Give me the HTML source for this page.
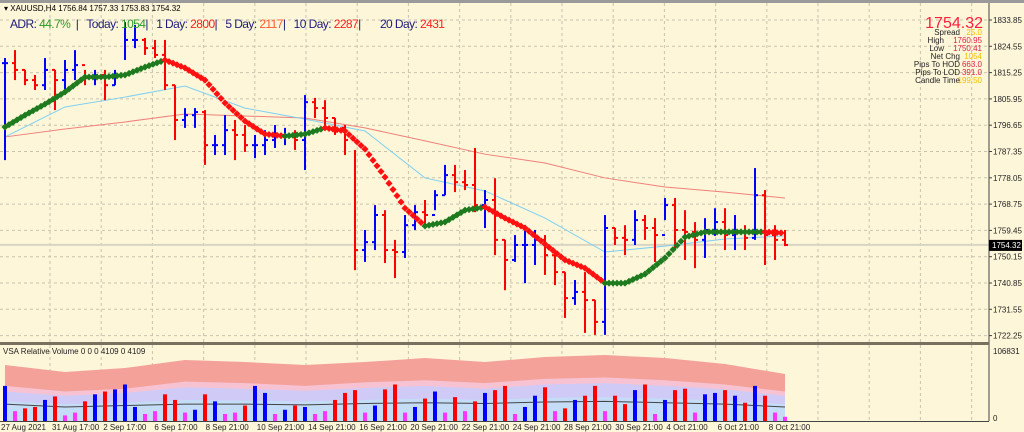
<!DOCTYPE html>
<html><head><meta charset="utf-8">
<style>
html,body{margin:0;padding:0;background:#fdf6d9;width:1024px;height:432px;overflow:hidden}
svg{display:block;font-family:"Liberation Sans",sans-serif}
</style></head>
<body>
<svg id="chart" width="1024" height="432" viewBox="0 0 1024 432" xmlns="http://www.w3.org/2000/svg">
<rect x="0" y="0" width="1024" height="432" fill="#fdf6d9"/>
<rect x="0" y="0" width="1024" height="3" fill="#9a9a9a"/>
<g id="grid"></g>
<g id="vol"></g>
<g id="mas"></g>
<g id="bars"></g>
<g id="dots"></g>
<g id="axes"></g>
<text x="4" y="11" font-size="8" fill="#000">▾ XAUUSD,H4  1756.84 1757.33 1753.83 1754.32</text>
<text x="10" y="28" font-size="12" fill="#1c1c7a" textLength="435" lengthAdjust="spacing" xml:space="preserve">ADR: <tspan fill="#2a9a2a">44.7%</tspan>  |   Today: <tspan fill="#2a9a2a">1054</tspan>|   1 Day: <tspan fill="#ff1e1e">2800</tspan>|   5 Day: <tspan fill="#ff5a2a">2117</tspan>|   10 Day: <tspan fill="#ff1e1e">2287</tspan>|       20 Day: <tspan fill="#ff1e1e">2431</tspan></text>
<g font-size="8" text-anchor="end">
<text x="983" y="28" font-size="16" fill="#ff1e3c">1754.32</text>
<text x="960" y="35" fill="#222">Spread</text><text x="982" y="35" fill="#f0c000">25.0</text>
<text x="944" y="43" fill="#222">High</text><text x="982" y="43" fill="#e0204a">1760.95</text>
<text x="944" y="51" fill="#222">Low</text><text x="982" y="51" fill="#e0204a">1750.41</text>
<text x="960" y="59" fill="#222">Net Chg</text><text x="982" y="59" fill="#f0c000">1054</text>
<text x="960" y="67" fill="#222">Pips To HOD</text><text x="982" y="67" fill="#e0204a">663.0</text>
<text x="960" y="75" fill="#222">Pips To LOD</text><text x="982" y="75" fill="#e0204a">391.0</text>
<text x="960" y="83" fill="#222">Candle Time</text><text x="982" y="83" fill="#f0c000">199:50</text>
</g>
</svg>
<script>
const highs=[1820.4,1823.2,1816.2,1814.4,1820.4,1816.2,1819.7,1823.2,1816.2,1816.2,1816.2,1816.2,1833.1,1832.1,1827.5,1826.8,1826.8,1810.8,1802.7,1802.7,1802.0,1793.2,1800.2,1798.5,1796.7,1793.2,1794.9,1796.7,1795.7,1794.9,1807.3,1806.3,1805.5,1799.2,1796.7,1787.9,1759.6,1768.4,1766.6,1756.1,1764.9,1768.4,1770.2,1773.7,1782.6,1782.6,1780.8,1788.6,1773.7,1777.9,1756.1,1757.8,1761.3,1759.6,1757.8,1752.5,1744.7,1741.9,1744.7,1734.8,1764.9,1760.3,1761.3,1766.6,1764.9,1763.8,1770.9,1770.9,1766.6,1762.4,1763.8,1767.3,1767.3,1764.9,1761.3,1781.5,1773.7,1761.3,1759.6];
const lows=[1784.3,1812.6,1810.8,1809.1,1809.1,1802.0,1809.1,1812.6,1810.8,1810.8,1805.5,1810.8,1819.7,1823.9,1821.5,1820.4,1809.1,1791.4,1795.7,1795.7,1782.6,1786.1,1786.1,1784.3,1787.2,1785.0,1786.1,1788.6,1789.6,1787.9,1780.8,1799.2,1794.9,1793.2,1786.1,1745.4,1748.3,1752.5,1747.9,1742.6,1749.7,1759.6,1760.3,1766.6,1771.9,1773.0,1773.7,1765.9,1760.3,1750.7,1738.3,1748.3,1740.8,1747.2,1743.7,1740.1,1728.5,1733.1,1723.2,1722.5,1722.5,1754.3,1750.7,1754.3,1756.1,1748.3,1763.1,1752.5,1749.0,1746.1,1749.7,1757.5,1752.5,1752.5,1752.5,1756.1,1747.2,1749.0,1753.9];
const closes=[1818.6,1816.2,1812.6,1810.8,1816.2,1812.6,1816.2,1817.9,1813.3,1814.4,1810.8,1814.4,1826.8,1826.8,1823.9,1821.5,1810.8,1798.5,1800.2,1801.3,1789.6,1789.6,1794.9,1793.2,1789.6,1789.6,1791.4,1793.2,1793.2,1791.4,1804.8,1802.7,1799.2,1795.7,1791.4,1752.5,1755.3,1764.9,1752.5,1751.8,1761.3,1765.9,1764.9,1771.9,1779.0,1776.5,1775.5,1768.4,1770.2,1756.1,1749.0,1754.3,1754.3,1756.1,1750.7,1744.7,1735.5,1737.7,1734.8,1727.1,1760.3,1756.8,1756.1,1763.1,1760.3,1757.8,1768.4,1759.6,1758.9,1756.1,1759.6,1762.4,1757.8,1758.9,1756.8,1771.9,1757.8,1756.1,1754.3];
const volumes=[50,14,18,20,30,35,8,12,28,38,42,45,52,20,10,14,38,30,12,16,38,28,10,12,22,50,40,10,16,22,20,10,14,30,40,44,12,22,45,52,12,20,32,42,12,34,14,28,40,44,50,10,20,36,48,14,18,30,36,50,14,36,24,44,52,10,30,44,46,12,38,40,44,36,26,50,36,12,6];
const trendMA=[1796.0,1800.2,1804.1,1808.4,1813.7,1813.7,1814.4,1817.2,1819.7,1816.9,1812.6,1804.5,1798.1,1793.5,1792.8,1793.5,1795.7,1794.6,1788.2,1778.3,1767.3,1761.0,1762.4,1766.6,1767.7,1763.8,1760.3,1754.6,1749.0,1746.1,1740.8,1740.8,1744.0,1749.7,1757.1,1758.9,1758.9,1758.9,1758.9,1758.5];
const ma50=[1792.5,1803.1,1806.6,1810.5,1802.7,1798.8,1794.6,1778.0,1773.4,1763.8,1751.8,1753.9,1756.4,1757.5];
const ma200=[1792.5,1795.3,1797.8,1800.6,1799.9,1799.2,1795.7,1791.1,1786.4,1783.3,1778.0,1774.8,1773.0,1770.9];
const bandSalmon=[79.7,69.8,75.5,86.9,84.0,79.7,84.0,89.7,84.0,91.1,94.0,89.7,81.2,66.9];
const bandPink=[50,42,46,56,54,50,55,58,54,60,62,58,52,42];
const bandLavender=[42,36,40,48,46,43,47,50,46,52,54,50,45,36];
const bandBlue=[28,24,26,30,29,28,30,32,30,33,34,32,29,24];
const volAvg=[24,20,22,24,24,23,25,26,25,27,28,26,24,20];
const priceTicks=["1833.85","1824.55","1815.25","1805.95","1796.65","1787.35","1778.05","1768.75","1759.45","1750.15","1740.85","1731.55","1722.25"];
const timeLabels=["27 Aug 2021","31 Aug 17:00","2 Sep 17:00","6 Sep 17:00","8 Sep 21:00","10 Sep 21:00","14 Sep 21:00","16 Sep 21:00","20 Sep 21:00","22 Sep 21:00","24 Sep 21:00","28 Sep 21:00","30 Sep 21:00","4 Oct 21:00","6 Oct 21:00","8 Oct 21:00"];
const lastPrice=1754.32, volMax=106831;

const NS="http://www.w3.org/2000/svg";
const AX=989, VTOP=346, VBOT=421;
function y(p){return 20+(1833.85-p)*26.3/9.3;}
function x(i){return 5+i*10;}
function vy(k){return VBOT-(k*1000)/volMax*(VBOT-VTOP);}
function mk(tag,attrs,parent){const e=document.createElementNS(NS,tag);for(const k in attrs)e.setAttribute(k,attrs[k]);parent.appendChild(e);return e;}

const grid=document.getElementById('grid');
priceTicks.forEach((t,i)=>{
  const l=mk('line',{x1:0,x2:AX,y1:y(+t),y2:y(+t),stroke:'#c9c3ae','stroke-dasharray':'3,3','stroke-width':1},grid);
  
  
});
for(let g=0;g<20;g++){
  const gx=50+g*51.2; if(gx>=AX) break;
  const l=mk('line',{x1:gx,x2:gx,y1:3,y2:VBOT,stroke:'#c9c3ae','stroke-dasharray':'3,3','stroke-width':1},grid);
  
  
}
const pl=mk('line',{x1:0,x2:AX,y1:y(lastPrice),y2:y(lastPrice),stroke:'#d8d4c4','stroke-width':2},grid);



const vol=document.getElementById('vol');
function band(arr,fill,name){
  let d='M'+x(0)+','+VBOT;
  arr.forEach((v,j)=>{d+=' L'+x(j*6)+','+vy(v);});
  d+=' L'+x((arr.length-1)*6)+','+VBOT+' Z';
  const p=mk('path',{d:d,fill:fill},vol);
  
  
}
band(bandSalmon,'#f4a19a','volume-band-high');
band(bandPink,'#f7c3d3','volume-band-mid');
band(bandLavender,'#cfcbf6','volume-band-low');
band(bandBlue,'#c4dcf5','volume-band-base');
let ad='';
volAvg.forEach((v,j)=>{ad+=(j?' L':'M')+x(j*6)+','+vy(v);});
const al=mk('path',{d:ad,fill:'none',stroke:'#444','stroke-width':1},vol);


volumes.forEach((v,i)=>{
  const open=i?closes[i-1]:closes[0];
  let c=closes[i]>=open?'#0000ff':'#ff0000';
  if(v<15) c='#ff33ff';
  const r=mk('rect',{x:x(i)-2,y:vy(v),width:4,height:VBOT-vy(v),fill:c},vol);
  
  
});

const mas=document.getElementById('mas');
function line(arr,color,name){
  let d='';arr.forEach((v,j)=>{d+=(j?' L':'M')+x(j*6)+','+y(v);});
  const p=mk('path',{d:d,fill:'none',stroke:color,'stroke-width':1},mas);
  
  
}
line(ma200,'#f0807a','ma-200');
line(ma50,'#7fd0f0','ma-50');

const bars=document.getElementById('bars');
closes.forEach((c,i)=>{
  const o=i?closes[i-1]:c;
  const col=c>=o?'#0000ff':'#ff0000';
  const g=mk('g',{stroke:col,'stroke-width':2},bars);
  
  
  mk('line',{x1:x(i),x2:x(i),y1:y(highs[i]),y2:y(lows[i])},g);
  mk('line',{x1:x(i)-3,x2:x(i),y1:y(o),y2:y(o)},g);
  mk('line',{x1:x(i),x2:x(i)+3,y1:y(c),y2:y(c)},g);
});

const dots=document.getElementById('dots');
for(let j=0;j<trendMA.length-1;j++){
  const x0=x(j*2),x1=x(j*2+2),y0=y(trendMA[j]),y1=y(trendMA[j+1]);
  const col=trendMA[j+1]>=trendMA[j]?'#1e7a1e':'#ff1010';
  for(let s=0;s<5;s++){
    const t=s/5;
    const cx=x0+(x1-x0)*t, cy=y0+(y1-y0)*t;
    const d=mk('rect',{x:cx-2.5,y:cy-2.5,width:5,height:5,fill:col,transform:'rotate(45 '+cx+' '+cy+')'},dots);
    
    
  }
}

const axes=document.getElementById('axes');
const a1=mk('line',{x1:AX,x2:AX,y1:3,y2:VBOT,stroke:'#444','stroke-width':1},axes);


const sep=mk('rect',{x:0,y:342,width:AX,height:3,fill:'#7a7060'},axes);


const a2=mk('line',{x1:0,x2:AX,y1:VBOT+0.5,y2:VBOT+0.5,stroke:'#444','stroke-width':1},axes);


priceTicks.forEach(t=>{
  const tx=mk('text',{x:AX+4,y:y(+t)+3,'font-size':8,fill:'#222'},axes);
  tx.textContent=t;
  
  
  mk('line',{x1:AX,x2:AX+3,y1:y(+t),y2:y(+t),stroke:'#444'},axes);
});
const tag=mk('rect',{x:AX,y:y(lastPrice)-5,width:33,height:11,fill:'#000'},axes);


const tt=mk('text',{x:AX+3,y:y(lastPrice)+3,'font-size':8,fill:'#fff'},axes);
tt.textContent=lastPrice.toFixed(2);


const vt=mk('text',{x:AX+4,y:VTOP+8,'font-size':8,fill:'#222'},axes);
vt.textContent=String(volMax);


const v0=mk('text',{x:AX+4,y:VBOT,'font-size':8,fill:'#222'},axes);
v0.textContent='0';


const vl=mk('text',{x:3,y:354,'font-size':8,fill:'#222'},axes);
vl.textContent='VSA Relative Volume 0 0 0 4109 0 4109';


timeLabels.forEach((t,i)=>{
  const tx=mk('text',{x:i===0?1:50+(i-1)*51.2+2,y:430,'font-size':8,fill:'#222'},axes);
  tx.textContent=t;
  
  
});
</script>
</body></html>
